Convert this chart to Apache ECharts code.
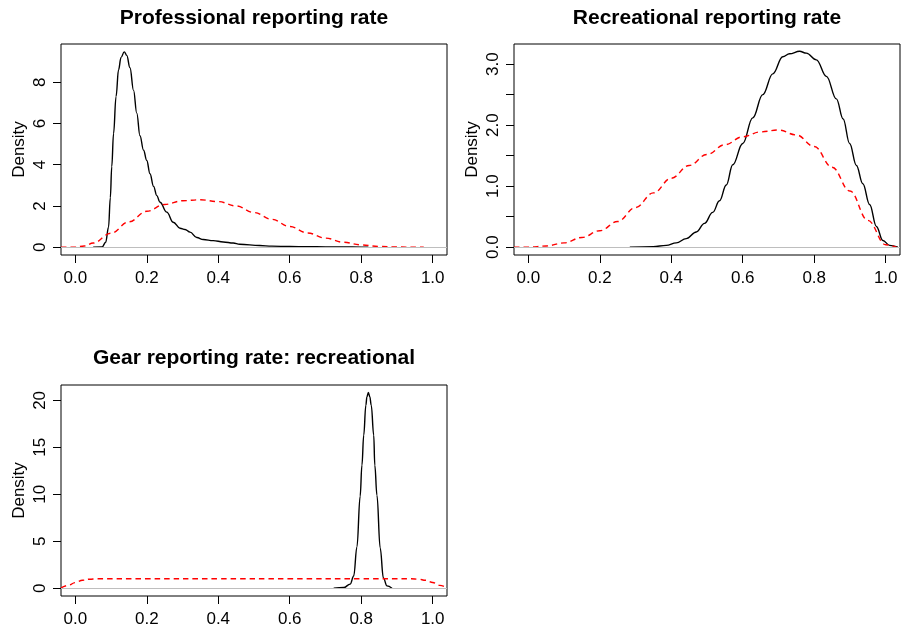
<!DOCTYPE html>
<html>
<head>
<meta charset="utf-8">
<script src="https://cdn.jsdelivr.net/npm/echarts@6/dist/echarts.min.js"></script>
<style>
  html, body { margin: 0; padding: 0; background: #fff; }
  #main { width: 901px; height: 631px; }
</style>
</head>
<body>
<div id="main"></div>
<script>
// panel titles
const titles = ['Professional reporting rate', 'Recreational reporting rate', 'Gear reporting rate: recreational']

// x ticks shared by all panels
const xTicks = [0, 0.2, 0.4, 0.6, 0.8, 1.0]

// y ticks per panel (labels shown for some only)
const yTicks1 = [0, 2, 4, 6, 8]
const yLabels1 = [0, 2, 4, 6, 8]
const yTicks2 = [0, 0.5, 1.0, 1.5, 2.0, 2.5, 3.0]
const yLabels2 = [0, 1.0, 2.0, 3.0]
const yTicks3 = [0, 5, 10, 15, 20]
const yLabels3 = [0, 5, 10, 15, 20]

// professional reporting rate: posterior (black) and prior (red)
const post1X = [0.05, 0.075, 0.085, 0.093, 0.098, 0.102, 0.107, 0.114, 0.121, 0.128, 0.137, 0.144, 0.153, 0.163, 0.172, 0.181, 0.191, 0.2, 0.209, 0.219, 0.228, 0.237, 0.256, 0.274, 0.293, 0.307, 0.321, 0.34, 0.358, 0.386, 0.414, 0.442, 0.46, 0.516, 0.55, 0.6, 0.65, 0.7, 0.75, 0.8, 0.82]
const post1Y = [0, 0.01, 0.24, 0.97, 2.4, 3.9, 5.5, 7.3, 8.6, 9.2, 9.47, 9.3, 8.7, 7.6, 6.5, 5.4, 4.7, 4.2, 3.56, 2.95, 2.5, 2.18, 1.7, 1.21, 0.92, 0.86, 0.73, 0.47, 0.37, 0.32, 0.25, 0.2, 0.14, 0.08, 0.05, 0.03, 0.02, 0.015, 0.01, 0.005, 0]
const prior1X = [-0.04, 0, 0.025, 0.05, 0.1, 0.15, 0.2, 0.25, 0.3, 0.35, 0.4, 0.45, 0.5, 0.55, 0.6, 0.65, 0.7, 0.75, 0.8, 0.85, 0.9, 0.95, 0.975]
const prior1Y = [0, 0, 0.06, 0.2, 0.68, 1.23, 1.74, 2.07, 2.25, 2.3, 2.21, 2.0, 1.68, 1.35, 1.0, 0.69, 0.44, 0.24, 0.11, 0.04, 0.01, 0, 0]

// recreational reporting rate
const post2X = [0.284, 0.349, 0.386, 0.414, 0.442, 0.47, 0.493, 0.516, 0.535, 0.554, 0.572, 0.6, 0.628, 0.656, 0.684, 0.712, 0.731, 0.759, 0.778, 0.806, 0.834, 0.862, 0.881, 0.899, 0.918, 0.936, 0.955, 0.974, 0.992, 1.011, 1.034]
const post2Y = [0, 0.01, 0.03, 0.07, 0.14, 0.25, 0.39, 0.57, 0.76, 1.02, 1.35, 1.7, 2.12, 2.5, 2.84, 3.12, 3.17, 3.21, 3.18, 3.07, 2.8, 2.43, 2.1, 1.7, 1.34, 1.04, 0.7, 0.34, 0.11, 0.03, 0]
const prior2X = [-0.04, 0, 0.05, 0.1, 0.15, 0.2, 0.25, 0.3, 0.35, 0.4, 0.45, 0.5, 0.55, 0.6, 0.65, 0.7, 0.75, 0.8, 0.85, 0.9, 0.95, 1.0, 1.03]
const prior2Y = [0, 0, 0.02, 0.07, 0.16, 0.27, 0.42, 0.65, 0.89, 1.13, 1.34, 1.52, 1.68, 1.81, 1.89, 1.92, 1.84, 1.65, 1.31, 0.92, 0.44, 0.04, 0]

// gear reporting rate: recreational
const post3X = [0.723, 0.751, 0.769, 0.779, 0.788, 0.797, 0.802, 0.807, 0.813, 0.816, 0.82, 0.824, 0.828, 0.835, 0.838, 0.844, 0.853, 0.862, 0.872, 0.886]
const post3Y = [0, 0.07, 0.43, 1.3, 4.4, 9.8, 13.1, 16.3, 19.5, 20.4, 20.85, 20.4, 19.5, 16.3, 13.1, 9.9, 4.3, 1.1, 0.25, 0]
const prior3X = [-0.04, -0.02, 0, 0.02, 0.04, 0.06, 0.2, 0.4, 0.6, 0.8, 0.94, 0.96, 0.98, 1.0, 1.02, 1.04]
const prior3Y = [0.03, 0.3, 0.6, 0.85, 0.96, 1.0, 1.0, 1.0, 1.0, 1.0, 1.0, 0.96, 0.85, 0.6, 0.3, 0.03]

const FONT = "'Liberation Sans', Arial, Helvetica, sans-serif"

function pairs(xs, ys) {
  return xs.map((x, i) => [x, ys[i]])
}

function makeX(gi) {
  return {
    type: 'value', gridIndex: gi, min: -0.04, max: 1.04,
    axisLine: { show: false, onZero: false },
    splitLine: { show: false },
    axisTick: { show: true, length: 8, lineStyle: { color: '#000', width: 1 }, customValues: xTicks },
    axisLabel: {
      show: true, customValues: xTicks, margin: 15,
      color: '#000', fontSize: 17, fontFamily: FONT,
      formatter: (v) => v.toFixed(1)
    }
  }
}

function makeY(gi, min, max, ticks, labels, digits) {
  return {
    type: 'value', gridIndex: gi, min: min, max: max,
    name: 'Density', nameLocation: 'middle', nameGap: 33, nameRotate: 90,
    nameTextStyle: { color: '#000', fontSize: 17, fontFamily: FONT },
    axisLine: { show: false, onZero: false },
    splitLine: { show: false },
    axisTick: { show: true, length: 8, lineStyle: { color: '#000', width: 1 }, customValues: ticks },
    axisLabel: {
      show: true, customValues: labels, rotate: 90, margin: 12,
      color: '#000', fontSize: 17, fontFamily: FONT,
      formatter: (v) => v.toFixed(digits)
    }
  }
}

function postSeries(gi, xs, ys) {
  return {
    type: 'line', xAxisIndex: gi, yAxisIndex: gi, z: 2,
    data: pairs(xs, ys), showSymbol: false, smooth: 0.4, smoothMonotone: 'x',
    lineStyle: { color: '#000', width: 1.4 }
  }
}

function zeroSeries(gi) {
  return {
    type: 'line', xAxisIndex: gi, yAxisIndex: gi, z: 3, data: [],
    markLine: {
      silent: true, symbol: 'none', animation: false,
      label: { show: false },
      lineStyle: { color: '#bebebe', width: 1, type: 'solid' },
      data: [{ yAxis: 0 }]
    }
  }
}

function priorSeries(gi, xs, ys) {
  return {
    type: 'line', xAxisIndex: gi, yAxisIndex: gi, z: 4,
    data: pairs(xs, ys), showSymbol: false, smooth: 0.4, smoothMonotone: 'x',
    lineStyle: { color: '#ff0000', width: 1.4, type: [5.5, 4] }
  }
}

const titleStyle = { color: '#000', fontSize: 21, fontWeight: 'bold', fontFamily: FONT }
const gridBox = { show: true, borderColor: '#000', borderWidth: 1, backgroundColor: 'transparent' }

const option = {
  animation: false,
  backgroundColor: '#fff',
  title: [
    { text: titles[0], left: 254, top: 8, textAlign: 'center', padding: 0, textStyle: titleStyle },
    { text: titles[1], left: 707, top: 8, textAlign: 'center', padding: 0, textStyle: titleStyle },
    { text: titles[2], left: 254, top: 348, textAlign: 'center', padding: 0, textStyle: titleStyle }
  ],
  grid: [
    Object.assign({ left: 61, top: 44, width: 386, height: 211 }, gridBox),
    Object.assign({ left: 514, top: 44, width: 386, height: 211 }, gridBox),
    Object.assign({ left: 61, top: 385, width: 386, height: 211 }, gridBox)
  ],
  xAxis: [makeX(0), makeX(1), makeX(2)],
  yAxis: [
    makeY(0, -0.379, 9.85, yTicks1, yLabels1, 0),
    makeY(1, -0.128, 3.33, yTicks2, yLabels2, 1),
    makeY(2, -0.83, 21.64, yTicks3, yLabels3, 0)
  ],
  series: [
    postSeries(0, post1X, post1Y), zeroSeries(0), priorSeries(0, prior1X, prior1Y),
    postSeries(1, post2X, post2Y), zeroSeries(1), priorSeries(1, prior2X, prior2Y),
    postSeries(2, post3X, post3Y), zeroSeries(2), priorSeries(2, prior3X, prior3Y)
  ]
}

const chart = echarts.init(document.getElementById('main'))
chart.setOption(option)
</script>
</body>
</html>
